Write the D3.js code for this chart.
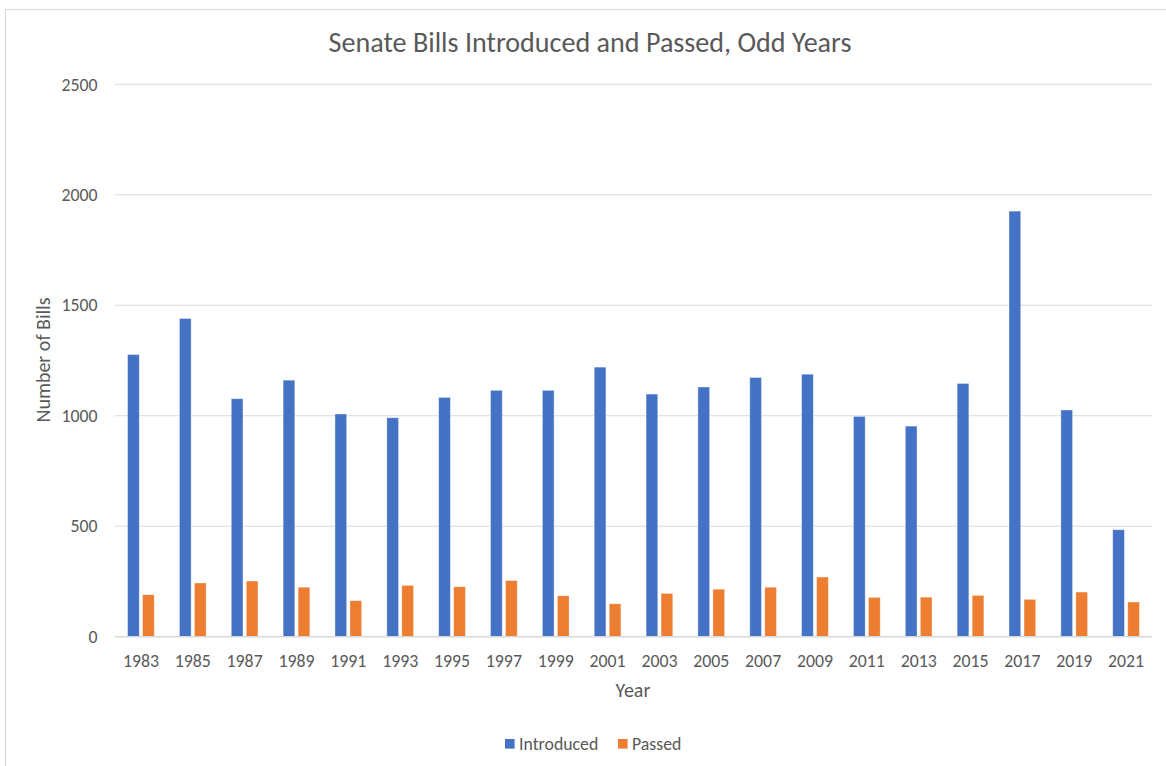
<!DOCTYPE html>
<html>
<head>
<meta charset="utf-8">
<script src="https://cdn.jsdelivr.net/npm/d3@7"></script>
<style>
  html, body { margin: 0; padding: 0; background: #fff; }
  svg { display: block; }
  text { font-family: Carlito, Calibri, "Open Sans", "Noto Sans", sans-serif; fill: #595959; }
</style>
</head>
<body>
<svg id="chart" width="1166" height="766"></svg>
<script>
const years = ["1983","1985","1987","1989","1991","1993","1995","1997","1999","2001",
               "2003","2005","2007","2009","2011","2013","2015","2017","2019","2021"];
const introduced = [1277,1440,1077,1161,1008,991,1083,1115,1115,1220,
                    1098,1130,1173,1188,997,953,1146,1926,1026,484];
const passed = [190,243,252,224,163,232,226,254,185,149,
                196,215,224,270,178,179,187,169,202,157];
const seriesNames = ["Introduced","Passed"];
const yTicks = [0,500,1000,1500,2000,2500];
const titleText = "Senate Bills Introduced and Passed, Odd Years";
const xTitle = "Year";
const yTitle = "Number of Bills";

const colors = ["#4472C4","#ED7D31"];
const svg = d3.select("#chart");
const W = 1166, H = 766;
const plot = {left: 115, right: 1152, top: 84.3, bottom: 636.7};
const tickFont = 17.8, axisTitleFont = 20;

// chart border (extends beyond right/bottom edges like the reference)
svg.append("rect").attr("x", 5.5).attr("y", 9.5).attr("width", W + 20).attr("height", H + 20)
  .attr("fill", "none").attr("stroke", "#d9d9d9").attr("stroke-width", 1);

const x = d3.scaleBand().domain(years).range([plot.left, plot.right]).padding(0);
const y = d3.scaleLinear().domain([0, 2500]).range([plot.bottom, plot.top]);

// gridlines
svg.append("g").selectAll("line").data(yTicks.filter(d => d > 0)).join("line")
  .attr("x1", plot.left).attr("x2", plot.right)
  .attr("y1", d => y(d)).attr("y2", d => y(d))
  .attr("stroke", "#d9d9d9").attr("stroke-width", 1);

// y tick labels
svg.append("g").selectAll("text").data(yTicks).join("text")
  .attr("x", 97.5).attr("y", d => y(d)).attr("dy", "0.35em")
  .attr("text-anchor", "end").attr("font-size", tickFont).text(d => d);

// bars
const barW = 11.7, gap = 3.3;
const series = [introduced, passed];
series.forEach((vals, si) => {
  svg.append("g").selectAll("rect").data(years).join("rect")
    .attr("x", (d) => x(d) + x.bandwidth() / 2 + (si === 0 ? -(gap / 2 + barW) : gap / 2))
    .attr("y", (d, i) => y(vals[i]))
    .attr("width", barW)
    .attr("height", (d, i) => y(0) - y(vals[i]))
    .attr("fill", colors[si])
    .attr("stroke", "#ffffff").attr("stroke-opacity", 0.45).attr("stroke-width", 0.8);
});

// baseline
svg.append("line").attr("x1", plot.left).attr("x2", plot.right)
  .attr("y1", y(0)).attr("y2", y(0)).attr("stroke", "#d9d9d9").attr("stroke-width", 1.5);

// x tick labels
svg.append("g").selectAll("text").data(years).join("text")
  .attr("x", d => x(d) + x.bandwidth() / 2).attr("y", 661).attr("dy", "0.35em")
  .attr("text-anchor", "middle").attr("font-size", tickFont).text(d => d);

// title
const t = svg.append("text").attr("x", 590).attr("y", 42.5).attr("dy", "0.35em")
  .attr("text-anchor", "middle").attr("font-size", 26).text(titleText);
const tl = t.node().getComputedTextLength();
t.attr("font-size", 26 * 523 / tl);

// axis titles
svg.append("text").attr("x", 633).attr("y", 690).attr("dy", "0.35em")
  .attr("text-anchor", "middle").attr("font-size", axisTitleFont).text(xTitle);
svg.append("text").attr("transform", "translate(42.5,360) rotate(-90)").attr("dy", "0.35em")
  .attr("text-anchor", "middle").attr("font-size", axisTitleFont).text(yTitle);

// legend
const legY = 743.8;
const leg = svg.append("g");
const legItems = [{x: 505, name: seriesNames[0], c: colors[0]}, {x: 618, name: seriesNames[1], c: colors[1]}];
legItems.forEach(it => {
  leg.append("rect").attr("x", it.x).attr("y", legY - 4.8).attr("width", 9.6).attr("height", 9.6).attr("fill", it.c);
  leg.append("text").attr("x", it.x + 14).attr("y", legY).attr("dy", "0.35em")
    .attr("font-size", tickFont).text(it.name);
});
</script>
</body>
</html>
